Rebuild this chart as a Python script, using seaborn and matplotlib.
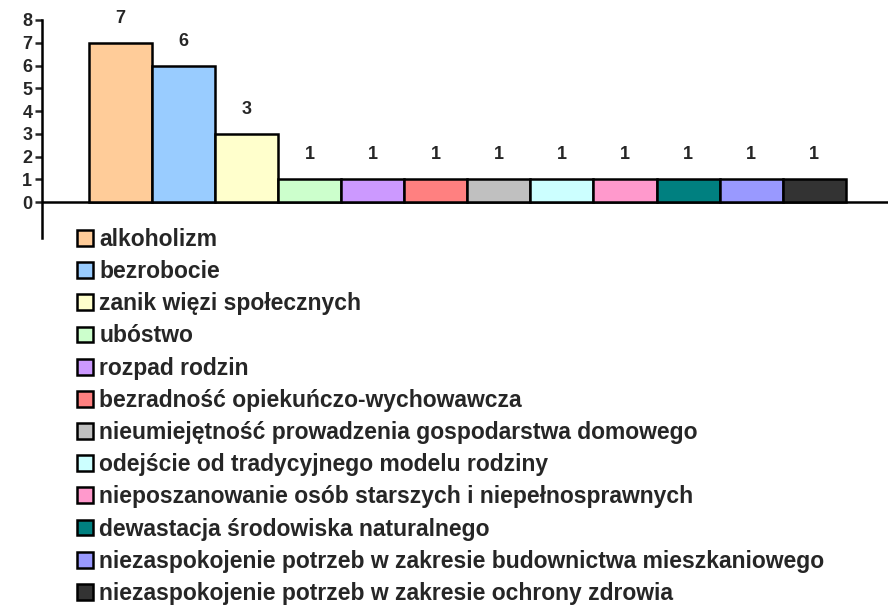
import matplotlib
matplotlib.use("Agg")
import matplotlib.pyplot as plt
import seaborn as sns
import pandas as pd

# data
categories = [
    "alkoholizm",
    "bezrobocie",
    "zanik więzi społecznych",
    "ubóstwo",
    "rozpad rodzin",
    "bezradność opiekuńczo-wychowawcza",
    "nieumiejętność prowadzenia gospodarstwa domowego",
    "odejście od tradycyjnego modelu rodziny",
    "nieposzanowanie osób starszych i niepełnosprawnych",
    "dewastacja środowiska naturalnego",
    "niezaspokojenie potrzeb w zakresie budownictwa mieszkaniowego",
    "niezaspokojenie potrzeb w zakresie ochrony zdrowia",
]
values = [7, 6, 3, 1, 1, 1, 1, 1, 1, 1, 1, 1]
colors = ["#FFCC99", "#99CCFF", "#FFFFCC", "#CCFFCC", "#CC99FF", "#FF8080",
          "#C0C0C0", "#CCFFFF", "#FF99CC", "#008080", "#9999FF", "#333333"]
y_ticks = [0, 1, 2, 3, 4, 5, 6, 7, 8]

df = pd.DataFrame({"kategoria": categories, "liczba": values})

sns.set_style("white")
plt.rcParams['font.family'] = ['Liberation Sans', 'DejaVu Sans']
plt.rcParams['font.weight'] = 'bold'

fig = plt.figure(figsize=(8.88, 6.10), dpi=100)
ax = fig.add_axes([42/888, 372/610, 846/888, 218/610])

sns.barplot(data=df, x="kategoria", y="liczba", hue="kategoria",
            palette=colors, saturation=1, width=1.0, dodge=False, legend=False,
            edgecolor="black", linewidth=1.8, ax=ax)

for i, v in enumerate(values):
    ax.annotate(str(v), (i, v), xytext=(0, 17.5), textcoords="offset points",
                ha="center", va="center", fontsize=13, fontweight="bold")

ax.set_xlim(-1.245, 12.17)
ax.set_ylim(-1.58, 8)
ax.set_yticks(y_ticks)
ax.set_xticks([])
ax.set_xlabel("")
ax.set_ylabel("")
ax.axhline(0, color="black", linewidth=1.8, zorder=0)
for s in ["top", "right", "bottom"]:
    ax.spines[s].set_visible(False)
ax.spines["left"].set_color("black")
ax.spines["left"].set_linewidth(1.8)
ax.tick_params(axis="y", direction="out", length=5, width=1.8, pad=2,
               labelsize=13, left=True)
for t in ax.get_yticklabels():
    t.set_fontweight("bold")

handles = [plt.Rectangle((0, 0), 1, 1, facecolor=c, edgecolor="black", linewidth=1.8)
           for c in colors]
fig.legend(handles, categories, loc="upper left", bbox_to_anchor=(77/888, 1 - 228/610),
           frameon=False, handlelength=0.68, handleheight=0.68,
           handletextpad=0.3, labelspacing=0.40, borderpad=0, borderaxespad=0,
           prop={"weight": "bold", "size": 16.5})

fig.savefig("out.png", dpi=100)
